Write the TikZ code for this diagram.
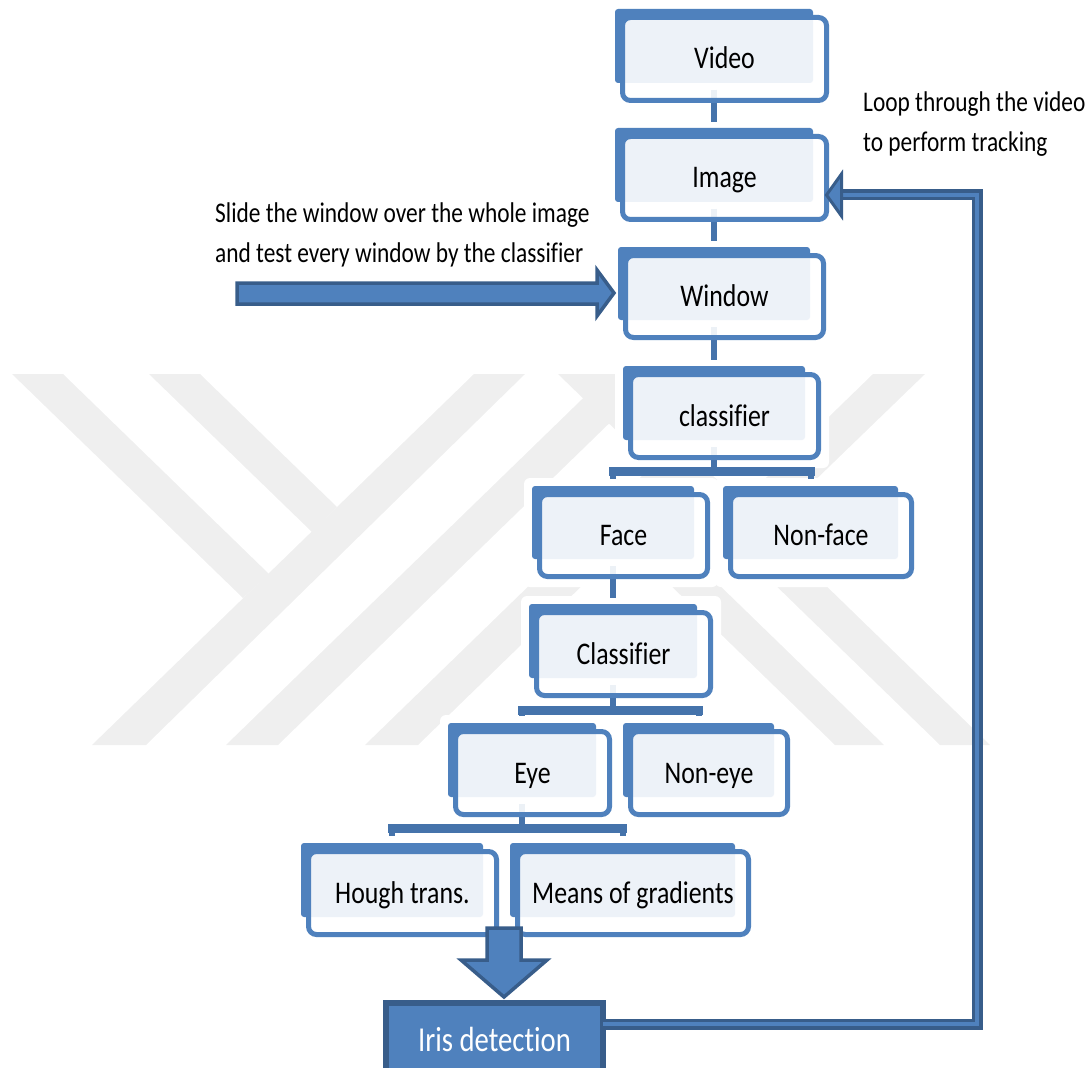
\documentclass[tikz,border=0pt]{standalone}
\usepackage{fontspec}
\setmainfont{Carlito}[FakeStretch=0.82, Ligatures=NoCommon]
\usetikzlibrary{calc}
\definecolor{boxblue}{HTML}{4F81BD}
\definecolor{darkblue}{HTML}{385D8A}
\definecolor{connblue}{HTML}{4573AB}
\definecolor{wmgray}{HTML}{EFEFEF}
% halo + back plate of a box: name, x1, y1, x2, y2
\newcommand\backbox[5]{%
  \node[halo, minimum width={#4-#2+32}, minimum height={#5-#3+36}] (#1-h) at ({(#2+#4)/2+8},{(#3+#5)/2+10}) {};
  \node[backrect, minimum width={#4-#2}, minimum height={#5-#3}] (#1-b) at ({(#2+#4)/2},{(#3+#5)/2}) {};
}
% front frame with text: name, x1, y1, x2, y2, text
\newcommand\frontbox[6]{%
  \node[frontrect, minimum width={#4-#2+6}, minimum height={#5-#3+9}] (#1) at ({(#2+#4)/2+10.5},{(#3+#5)/2+13}) {#6};
}
\begin{document}
\begin{tikzpicture}[x=1pt,y=-1pt,
  halo/.style={fill=white, rounded corners=6, inner sep=0pt, outer sep=0pt},
  backrect/.style={fill=boxblue, rounded corners=3, inner sep=0pt, outer sep=0pt},
  frontrect/.style={draw=boxblue, line width=5pt, fill=white, fill opacity=0.9, text opacity=1,
    rounded corners=8, inner sep=0pt, outer sep=0pt, text height=20pt, text depth=0pt,
    font=\fontsize{31.5}{36}\selectfont},
  conn/.style={draw=connblue, line width=6pt},
  bar/.style={draw=connblue, line width=9pt, line cap=rect},
  note/.style={anchor=base west, inner sep=0pt, font=\fontsize{28.5}{39}\selectfont},
  blockarrow/.style={fill=boxblue, draw=darkblue, line width=3.5pt, line join=miter},
  irisbox/.style={fill=boxblue, draw=darkblue, line width=6pt, inner sep=0pt, outer sep=0pt,
    text=white, text height=23pt, text depth=0pt, font=\fontsize{35}{40}\selectfont},
  wm/.style={fill=wmgray}]
\useasboundingbox (0,0) rectangle (1091,1067);

% faint background watermark
\fill[wm] (92,745) -- (146,745) -- (525,374) -- (474,374) -- cycle;
\fill[wm] (12,374) -- (63,374) -- (269,574) -- (243,598) -- cycle;
\fill[wm] (149,374) -- (200,374) -- (337,507) -- (312,532) -- cycle;
\fill[wm] (226,745) -- (278,745) -- (660,374) -- (608,374) -- cycle;
\fill[wm] (365,745) -- (418,745) -- (800,374) -- (747,374) -- cycle;
\fill[wm] (558,374) -- (608,374) -- (990,745) -- (940,745) -- cycle;
\fill[wm] (873,374) -- (925,374) -- (713,579) -- (884,745) -- (835,745) -- (663,578) -- cycle;

% halos and back plates
\backbox{video}{615}{9}{813}{83}
\backbox{image}{615}{128}{813}{202}
\backbox{window}{618}{247}{810}{320}
\backbox{cls1}{623}{366}{805}{440}
\backbox{face}{532}{486}{694}{559}
\backbox{nonface}{723}{486}{898}{559}
\backbox{cls2}{529}{604}{697}{678}
\backbox{eye}{448}{723}{596}{797}
\backbox{noneye}{623}{723}{774}{797}
\backbox{hough}{301}{843}{483}{917}
\backbox{means}{510}{843}{735}{917}

% connectors
\draw[conn] ([yshift=-7pt]video-b.south) -- ([yshift=6pt]image-b.north);
\draw[conn] ([yshift=-7pt]image-b.south) -- ([yshift=6pt]window-b.north);
\draw[conn] ([yshift=-7pt]window-b.south) -- ([yshift=6pt]cls1-b.north);

\coordinate (br1) at (714,471);
\draw[conn] ([yshift=-7pt]cls1-b.south) -- (br1);
\draw[bar] (face-b.north |- br1) -- (nonface-b.north |- br1);
\draw[conn] (face-b.north |- br1) -- ([yshift=7pt]face-b.north);
\draw[conn] (nonface-b.north |- br1) -- ([yshift=7pt]nonface-b.north);

\draw[conn] ([yshift=-7pt]face-b.south) -- ([yshift=6pt]cls2-b.north);

\coordinate (br2) at (613,710);
\draw[conn] ([yshift=-7pt]cls2-b.south) -- (br2);
\draw[bar] (eye-b.north |- br2) -- (noneye-b.north |- br2);
\draw[conn] (eye-b.north |- br2) -- ([yshift=7pt]eye-b.north);
\draw[conn] (noneye-b.north |- br2) -- ([yshift=7pt]noneye-b.north);

\coordinate (br3) at (522,828);
\draw[conn] ([yshift=-7pt]eye-b.south) -- (br3);
\draw[bar] (hough-b.north |- br3) -- (means-b.north |- br3);
\draw[conn] (hough-b.north |- br3) -- ([yshift=7pt]hough-b.north);
\draw[conn] (means-b.north |- br3) -- ([yshift=7pt]means-b.north);

% front frames with labels
\frontbox{video}{615}{9}{813}{83}{Video}
\frontbox{image}{615}{128}{813}{202}{Image}
\frontbox{window}{618}{247}{810}{320}{Window}
\frontbox{cls1}{623}{366}{805}{440}{classifier}
\frontbox{face}{532}{486}{694}{559}{Face}
\frontbox{nonface}{723}{486}{898}{559}{Non-face}
\frontbox{cls2}{529}{604}{697}{678}{Classifier}
\frontbox{eye}{448}{723}{596}{797}{Eye}
\frontbox{noneye}{623}{723}{774}{797}{Non-eye}
\frontbox{hough}{301}{843}{483}{917}{Hough trans.}
\frontbox{means}{510}{843}{735}{917}{Means of gradients}

% block arrow into the window
\draw[blockarrow] (237,283) -- (597,283) -- (597,270) -- (614,293) -- (597,316) -- (597,304) -- (237,304) -- cycle;

% block arrow down to iris detection
\draw[blockarrow] (487,928) -- (521,928) -- (521,960) -- (547,960) -- (504,997) -- (461,960) -- (487,960) -- cycle;

% iris detection box
\node[irisbox, minimum width=217, minimum height=74] (iris) at (494.5,1040) {Iris detection};

% loop back to the image
\coordinate (lc) at (977,195);
\coordinate (lt) at ([yshift=-17pt]image.east);
\draw[darkblue, line width=11pt, line join=miter] ([yshift=16pt]iris.east) -| (lc) -- ([xshift=14pt]lt);
\draw[boxblue, line width=3.5pt, line join=miter] ([yshift=16pt]iris.east) -| (lc) -- ([xshift=14pt]lt);
\filldraw[fill=boxblue, draw=darkblue, line width=3pt, line join=miter] (lt) -- ++(15,-21) -- ++(0,42) -- cycle;

% annotations
\node[note] (t1) at (215,223) {Slide the window over the whole image};
\node[note] (t2) at (215,262) {and test every window by the classifier};
\node[note] (t3) at (863,112) {Loop through the video};
\node[note] (t4) at (863,152) {to perform tracking};
\end{tikzpicture}
\end{document}
